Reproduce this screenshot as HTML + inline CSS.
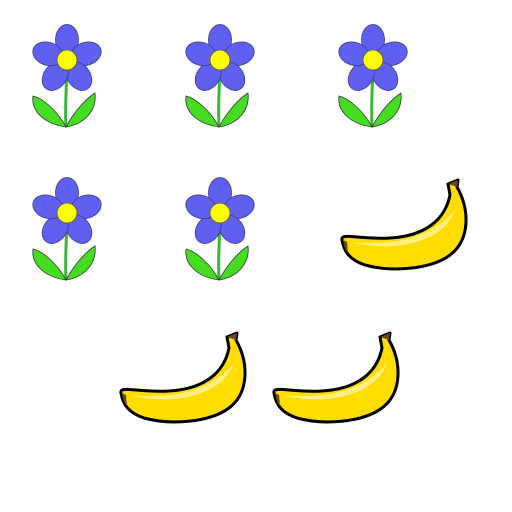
<!DOCTYPE html>
<html><head><style>html,body{margin:0;padding:0;background:#fff}svg{display:block}</style></head>
<body>
<svg width="512" height="512" viewBox="0 0 512 512">
<defs>
<g id="flower">
 <path d="M0,10 C-1,30 -2,50 -1,67" stroke="#3cb43c" stroke-width="3" fill="none"/>
 <path d="M-1,67 C-10,50 -25,38 -34,36 C-36,52 -22,64 -1,67 Z" fill="#44dd22" stroke="#333" stroke-width="0.8"/>
 <path d="M-1,67 C8,50 20,38 28,33 C30,50 18,64 -1,67 Z" fill="#44dd22" stroke="#333" stroke-width="0.8"/>
 <g fill="#5f5ff0" stroke="#3a3a8a" stroke-width="0.8">
  <ellipse cx="0" cy="-20" rx="11.5" ry="15.5"/>
  <ellipse cx="0" cy="-20" rx="11.5" ry="15.5" transform="rotate(72)"/>
  <ellipse cx="0" cy="-20" rx="11.5" ry="15.5" transform="rotate(144)"/>
  <ellipse cx="0" cy="-20" rx="11.5" ry="15.5" transform="rotate(216)"/>
  <ellipse cx="0" cy="-20" rx="11.5" ry="15.5" transform="rotate(288)"/>
 </g>
 <circle cx="0" cy="0" r="10" fill="#ffff00" stroke="#555" stroke-width="0.8"/>
</g>
<g id="banana">
 <path d="M12,70 C10,62 30,70 60,68 C95,66 115,50 120,25 L118,14 L128,10 L127,17 C140,40 140,70 120,85 C100,100 60,102 35,95 C20,90 14,82 12,70 Z" fill="#ffdd00" stroke="#000" stroke-width="3" stroke-linejoin="round"/>
 <path d="M20,72 C60,76 100,70 125,40 C115,70 70,84 20,72 Z" fill="#fff080"/>
 <path d="M118,14 L128,10 L127,17 Z" fill="#6b4a1a"/>
 <path d="M13,70 C14,76 15,80 18,83 L17,72 Z" fill="#6b4a1a"/>
</g>
</defs>
<use href="#flower" x="67" y="60"/>
<use href="#flower" x="220" y="60"/>
<use href="#flower" x="373" y="60"/>
<use href="#flower" x="67" y="213"/>
<use href="#flower" x="220" y="213"/>
<use href="#banana" x="330" y="170"/>
<use href="#banana" x="109" y="323"/>
<use href="#banana" x="262" y="323"/>
</svg>
</body></html>
